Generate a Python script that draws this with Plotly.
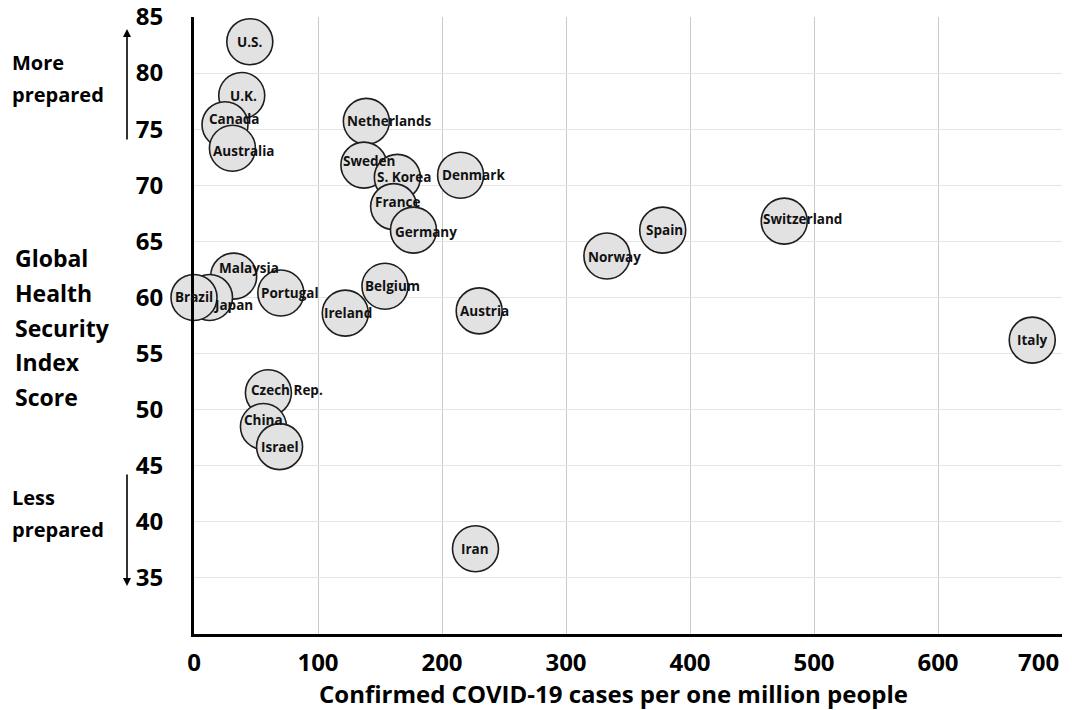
import plotly.graph_objects as go

countries = ["U.S.", "U.K.", "Canada", "Australia", "Netherlands", "Sweden", "S. Korea",
             "Denmark", "France", "Germany", "Belgium", "Ireland", "Austria", "Malaysia",
             "Japan", "Brazil", "Portugal", "Czech Rep.", "China", "Israel", "Norway",
             "Spain", "Switzerland", "Italy", "Iran"]
cases_per_million = [45, 38.5, 25, 31, 139, 137, 164, 215, 161, 177, 154, 122, 230, 32,
                     12.5, 0, 70, 60, 56, 69, 333, 378, 476, 676, 227]
ghs_score = [82.8, 78.0, 75.4, 73.3, 75.7, 71.8, 70.7, 70.9, 68.1, 66.0, 61.0, 58.6, 58.8,
             61.9, 60.0, 60.0, 60.4, 51.5, 48.5, 46.7, 63.7, 66.0, 66.8, 56.2, 37.6]
x_ticks = [0, 100, 200, 300, 400, 500, 600, 700]
y_ticks = [35, 40, 45, 50, 55, 60, 65, 70, 75, 80, 85]

# label pixel offsets (style): (right, down)
label_offsets = {"Canada": (9, -6), "Australia": (11, 3), "Netherlands": (23, 0),
                 "Sweden": (5, -4), "S. Korea": (7, 0), "Denmark": (13, 0),
                 "France": (4, -5), "Germany": (13, 2), "Belgium": (8, 0),
                 "Ireland": (3, 0), "Austria": (5, 0), "Malaysia": (15, -8),
                 "Japan": (24, 8), "Portugal": (9, 0), "Czech Rep.": (19, -3),
                 "China": (0, -6), "Norway": (8, 1), "Switzerland": (18, -2),
                 "U.K.": (2, 0), "Spain": (2, 0)}

FONT = "Open Sans"
TICK_SIZE = 24
fig = go.Figure()
fig.add_trace(go.Scatter(
    x=cases_per_million, y=ghs_score, mode="markers",
    marker=dict(size=46, color="#e2e2e2", line=dict(color="#1e1e1e", width=1.6)),
    cliponaxis=False, hoverinfo="text", text=countries, showlegend=False))

annotations = []
for name, xv, yv in zip(countries, cases_per_million, ghs_score):
    dx, dy = label_offsets.get(name, (0, 0))
    annotations.append(dict(x=xv, y=yv, xref="x", yref="y", text=name, showarrow=False,
                            xshift=dx, yshift=-dy,
                            font=dict(family=FONT, size=13.5, color="#111", weight="bold")))

# plot area geometry for paper-based annotations
L, T, H, W = 194, 17, 617, 868
def px(xp):
    return (xp - L) / W
def py(yp):
    return (T + H - yp) / H

for i, line in enumerate(["Global", "Health", "Security", "Index", "Score"]):
    annotations.append(dict(x=px(13), y=py(258 + i * 34.8), xref="paper", yref="paper",
                            xanchor="left", yanchor="middle", text=line, showarrow=False,
                            font=dict(family=FONT, size=23, color="black", weight="bold")))
for lines, y0 in [(["More", "prepared"], 63), (["Less", "prepared"], 497)]:
    for i, line in enumerate(lines):
        annotations.append(dict(x=px(10), y=py(y0 + i * 32), xref="paper", yref="paper",
                                xanchor="left", yanchor="middle", text=line, showarrow=False,
                                font=dict(family=FONT, size=20, color="black", weight="bold")))

# arrows
annotations.append(dict(x=px(127), y=py(29), xref="paper", yref="paper", ax=0, ay=112,
                        showarrow=True, arrowhead=2, arrowsize=1, arrowwidth=1.6,
                        arrowcolor="black", text=""))
annotations.append(dict(x=px(127), y=py(586), xref="paper", yref="paper", ax=0, ay=-113,
                        showarrow=True, arrowhead=2, arrowsize=1, arrowwidth=1.6,
                        arrowcolor="black", text=""))

# last x tick label, right-aligned to its gridline so it stays inside the page
annotations.append(dict(x=x_ticks[-1], y=0, xref="x", yref="paper", xanchor="right",
                        yanchor="top", yshift=-9, xshift=-1, showarrow=False,
                        text=str(x_ticks[-1]),
                        font=dict(family=FONT, size=TICK_SIZE, color="black", weight="bold")))

annotations.append(dict(x=px(613), y=py(693), xref="paper", yref="paper",
                        xanchor="center", yanchor="middle", showarrow=False,
                        text="Confirmed COVID-19 cases per one million people",
                        font=dict(family=FONT, size=24, color="black", weight="bold")))

fig.update_layout(
    width=1072, height=710,
    margin=dict(l=L, r=1072 - L - W, t=T, b=710 - T - H, autoexpand=False),
    paper_bgcolor="white", plot_bgcolor="white",
    annotations=annotations,
    xaxis=dict(range=[0, 700], tickvals=x_ticks,
               ticktext=[str(v) for v in x_ticks[:-1]] + [""],
               automargin=False, ticklabeloverflow="allow",
               showgrid=True, gridcolor="#cacaca",
               gridwidth=1.3, showline=True, linecolor="black", linewidth=3,
               zeroline=False, ticks="", ticklabelstandoff=5,
               tickfont=dict(family=FONT, size=TICK_SIZE, color="black", weight="bold")),
    yaxis=dict(range=[30, 85], tickvals=y_ticks, showgrid=True, gridcolor="#e4e4e4",
               automargin=False, ticklabeloverflow="allow",
               gridwidth=1.3, showline=True, linecolor="black", linewidth=3,
               zeroline=False, ticks="", ticklabelstandoff=23,
               tickfont=dict(family=FONT, size=TICK_SIZE, color="black", weight="bold")),
)

fig.write_html("out.html", config={"displayModeBar": False},
               post_script="document.body.style.margin='0';document.body.style.overflow='hidden';")
